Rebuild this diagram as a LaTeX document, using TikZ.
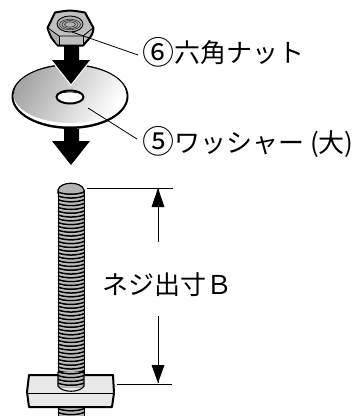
\documentclass[tikz,border=0pt]{standalone}
\usepackage{fontspec}
\setmainfont{Noto Sans CJK JP}
\usetikzlibrary{arrows.meta}
\newcommand{\circnum}[1]{{\fontsize{32}{32}\selectfont\raisebox{-1.5pt}{#1}}}
\tikzset{
  label text/.style={font=\fontsize{26}{28}\selectfont, inner sep=0pt, anchor=west, text=black},
  leader/.style={draw=black, line width=0.8pt},
  dim/.style={draw=black, line width=0.8pt},
  heavy/.style={draw=black, line width=2pt, line join=round},
  threadline/.style={draw=black, line width=1.5pt},
  threadlight/.style={draw=gray!45, line width=0.7pt}
}
\begin{document}
\begin{tikzpicture}[x=1pt,y=-1pt]
\useasboundingbox (0,0) rectangle (353,416);
% washer
\fill[black] (70,96.5) ellipse [x radius=58.5,y radius=32.5];
\fill[white] (70,96) ellipse [x radius=56.5,y radius=30.5];
\path[left color=gray!70, right color=white, shading angle=60] (70,94) ellipse [x radius=56.5,y radius=29];
\draw[black,line width=0.8pt] (13.5,94) arc[start angle=180,end angle=0,x radius=56.5,y radius=-29];
% upper arrow with halo
\draw[white,line width=2.5pt] (64,44) -- (79,44) -- (79,60) -- (90,60) -- (71,84) -- (52,60) -- (64,60) -- cycle;
\fill[black] (64,44) -- (79,44) -- (79,60) -- (90,60) -- (71,84) -- (52,60) -- (64,60) -- cycle;
% hole
\draw[heavy,fill=white] (70,97) ellipse [x radius=13.5,y radius=6.5];
\draw[black,line width=0.7pt] (57.5,95.5) arc[start angle=180,end angle=0,x radius=12.5,y radius=-3.5];
% nut
\draw[heavy,fill=gray!50] (55,12.5) .. controls (70,10) .. (85,12.5) -- (93.5,28) .. controls (92.5,35) .. (83,45.5) -- (58,45.5) .. controls (51,38) .. (47.5,28) -- cycle;
\fill[gray!65] (48.5,29) -- (59,36) -- (59,44.5) -- (57,44) -- cycle;
\draw[black,line width=0.8pt] (48,28) -- (59,36) -- (83,36) -- (93,28);
\draw[black,line width=0.8pt] (59,36) -- (59,45) (83,36) -- (83,45);
\draw[black,line width=0.9pt,fill=gray!60] (70,24) ellipse [x radius=13,y radius=8];
\foreach \r in {10.5,8,5.5}{\draw[black!80,line width=0.6pt] (70,24.5) ellipse [x radius=\r,y radius=\r*0.5];}
% lower arrow
\fill[black] (64,129) -- (79,129) -- (79,141) -- (90,141) -- (71,165) -- (52,141) -- (64,141) -- cycle;
% bolt
\fill[gray!60] (58,190) rectangle (84,416);
\draw[black,line width=1.2pt,fill=gray!60] (58,194) -- (58,190) .. controls (60,181) and (82,181) .. (84,190) -- (84,194);
\foreach \y in {192,195.8,...,416}{
  \draw[threadline] (58,\y) .. controls (64,\y+3) and (78,\y+3) .. (84,\y);
  \draw[threadlight] (60,\y+2.2) .. controls (66,\y+4.2) and (76,\y+4.2) .. (82,\y+2.2);
}
\draw[black,line width=1pt] (58,190) -- (58,416) (84,190) -- (84,416);
% t-nut
\draw[heavy,fill=gray!18] (29,375) -- (113,375) -- (114,393) -- (112,407) -- (29,407) -- (27,392) -- cycle;
\draw[black,line width=0.8pt] (27,393) -- (114,393);
% bolt over t-nut
\fill[gray!60] (58,372) rectangle (84,388);
\foreach \y in {371.6,375.4,379.2,383}{
  \draw[threadline] (58,\y) .. controls (64,\y+3) and (78,\y+3) .. (84,\y);
  \draw[threadlight] (60,\y+2.2) .. controls (66,\y+4.2) and (76,\y+4.2) .. (82,\y+2.2);
}
\draw[black,line width=1.1pt] (58,372) -- (58,386) .. controls (62,393) and (80,393) .. (84,386) -- (84,372);
% labels
\node[label text] (n6) at (142,52) {\circnum{⑥}六角ナット};
\node[label text] (n5) at (142,142) {\circnum{⑤}ワッシャー\hspace{6pt}(大)};
\node[label text] (nb) at (102,285) {ネジ出寸Ｂ};
% leaders
\coordinate (a6) at (72,32);
\coordinate (e6) at (138,55);
\coordinate (a5) at (88,108);
\coordinate (e5) at (137,139);
\draw[leader] (a6) -- (e6);
\draw[leader] (a5) -- (e5);
% dimensions
\coordinate (t1) at (87,188); \coordinate (t2) at (173,188);
\coordinate (b1) at (117,384); \coordinate (b2) at (172,384);
\coordinate (u1) at (158,188); \coordinate (u2) at (158,242);
\coordinate (d1) at (158,316); \coordinate (d2) at (158,383);
\draw[dim] (t1) -- (t2);
\draw[dim] (b1) -- (b2);
\draw[dim] (u2) -- (u1);
\draw[dim] (d1) -- (d2);
\fill[black] (158,188) -- (164.5,207) -- (151.5,207) -- cycle;
\fill[black] (158,383) -- (164.5,365) -- (151.5,365) -- cycle;
\end{tikzpicture}
\end{document}
